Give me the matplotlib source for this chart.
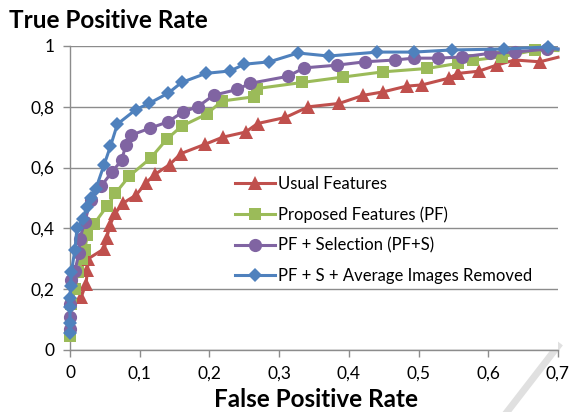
import matplotlib
matplotlib.use('Agg')
import matplotlib.pyplot as plt
from matplotlib.lines import Line2D

plt.rcParams['font.family'] = ['Lato', 'DejaVu Sans']

# series data
usual_x = [0.016, 0.023, 0.025, 0.026, 0.049, 0.053, 0.057, 0.065, 0.076, 0.095, 0.109, 0.122, 0.143, 0.159,
           0.194, 0.219, 0.252, 0.269, 0.309, 0.342, 0.386, 0.421, 0.449, 0.483, 0.505, 0.543, 0.557, 0.586,
           0.612, 0.638, 0.674, 0.7]
usual_y = [0.174, 0.218, 0.262, 0.30, 0.333, 0.37, 0.41, 0.45, 0.483, 0.51, 0.55, 0.578, 0.61, 0.646,
           0.677, 0.70, 0.717, 0.745, 0.765, 0.80, 0.811, 0.838, 0.849, 0.868, 0.872, 0.894, 0.91, 0.917,
           0.937, 0.954, 0.948, 0.963]

pf_x = [0, 0.002, 0.007, 0.011, 0.017, 0.021, 0.025, 0.034, 0.053, 0.065, 0.085, 0.116, 0.139, 0.16,
        0.196, 0.218, 0.264, 0.268, 0.333, 0.392, 0.449, 0.512, 0.557, 0.578, 0.62, 0.667, 0.7]
pf_y = [0.045, 0.15, 0.2, 0.256, 0.30, 0.33, 0.377, 0.413, 0.473, 0.515, 0.572, 0.632, 0.694, 0.736,
        0.776, 0.819, 0.833, 0.86, 0.88, 0.898, 0.915, 0.926, 0.943, 0.953, 0.965, 0.986, 0.985]

pfs_x = [0, 0, 0, 0.001, 0.007, 0.013, 0.014, 0.021, 0.03, 0.045, 0.06, 0.074, 0.08, 0.087, 0.115, 0.14,
         0.162, 0.183, 0.206, 0.24, 0.258, 0.312, 0.336, 0.383, 0.423, 0.466, 0.493, 0.528, 0.562, 0.603,
         0.638, 0.684, 0.7]
pfs_y = [0.07, 0.11, 0.15, 0.23, 0.26, 0.32, 0.365, 0.42, 0.495, 0.54, 0.585, 0.624, 0.673, 0.706, 0.73, 0.75,
         0.783, 0.80, 0.838, 0.857, 0.877, 0.9, 0.928, 0.937, 0.948, 0.954, 0.96, 0.96, 0.964, 0.976,
         0.98, 0.99, 0.99]

avg_x = [0, 0, 0, 0, 0.001, 0.002, 0.007, 0.01, 0.018, 0.024, 0.03, 0.037, 0.049, 0.058, 0.068, 0.094,
         0.114, 0.141, 0.16, 0.195, 0.23, 0.25, 0.286, 0.327, 0.371, 0.441, 0.493, 0.548, 0.623, 0.686, 0.7]
avg_y = [0.055, 0.09, 0.14, 0.17, 0.21, 0.256, 0.33, 0.40, 0.43, 0.47, 0.5, 0.53, 0.61, 0.67, 0.743, 0.79,
         0.812, 0.845, 0.88, 0.91, 0.918, 0.94, 0.948, 0.977, 0.967, 0.98, 0.98, 0.987, 0.99, 0.997, 0.99]

xticks = [0, 0.1, 0.2, 0.3, 0.4, 0.5, 0.6, 0.7]
xticklabels = ['0', '0,1', '0,2', '0,3', '0,4', '0,5', '0,6', '0,7']
yticks = [0, 0.2, 0.4, 0.6, 0.8, 1]
yticklabels = ['0', '0,2', '0,4', '0,6', '0,8', '1']

fig = plt.figure(figsize=(5.73, 4.12), dpi=100)
ax = fig.add_axes([70/573, 1 - 350/412, 488/573, 304/412])

series = [
    (usual_x, usual_y, '#C0504D', '^', 10, 'Usual Features'),
    (pf_x, pf_y, '#9BBB59', 's', 8, 'Proposed Features (PF)'),
    (pfs_x, pfs_y, '#8064A2', 'o', 9.5, 'PF + Selection (PF+S)'),
    (avg_x, avg_y, '#4F81BD', 'D', 7, 'PF + S + Average Images Removed'),
]
handles = []
for xs, ys, c, m, ms, lab in series:
    ax.plot(xs, ys, color=c, lw=2.2, marker=m, ms=ms, markevery=slice(0, len(xs) - 1),
            markeredgewidth=0, clip_on=False, zorder=3)
    handles.append(Line2D([], [], color=c, lw=2.2, marker=m, ms=ms, markeredgewidth=0))

ax.set_xlim(0, 0.7)
ax.set_ylim(0, 1)
ax.set_xticks(xticks)
ax.set_xticklabels(xticklabels)
ax.set_yticks(yticks)
ax.set_yticklabels(yticklabels)
ax.yaxis.grid(True, color='#8c8c8c', lw=1)
ax.set_axisbelow(True)
for s in ['top', 'right']:
    ax.spines[s].set_visible(False)
for s in ['left', 'bottom']:
    ax.spines[s].set_color('#8c8c8c')
    ax.spines[s].set_linewidth(1)
ax.tick_params(axis='both', colors='#8c8c8c', labelcolor='black', labelsize=12.5, length=5, width=1)
ax.tick_params(axis='x', pad=6)
ax.tick_params(axis='y', pad=6)

fig.text(9/573, 1 - 28/412, 'True Positive Rate', fontsize=17.5, fontweight='bold')
fig.text(316/573, 1 - 407/412, 'False Positive Rate', fontsize=17.5, fontweight='bold', ha='center')

ax.legend(handles, [s[5] for s in series], loc='upper left', bbox_to_anchor=(165/488, 1 - 130/304),
          frameon=False, fontsize=12, handlelength=2.4, handletextpad=0.2, labelspacing=0.86,
          borderaxespad=0, borderpad=0)

# watermark stroke at the lower right
fig.add_artist(Line2D([507/573, 558/573], [0, 1 - 346/412], color='#e0e0e0', lw=5, zorder=0))

fig.savefig('out.png', dpi=100)
